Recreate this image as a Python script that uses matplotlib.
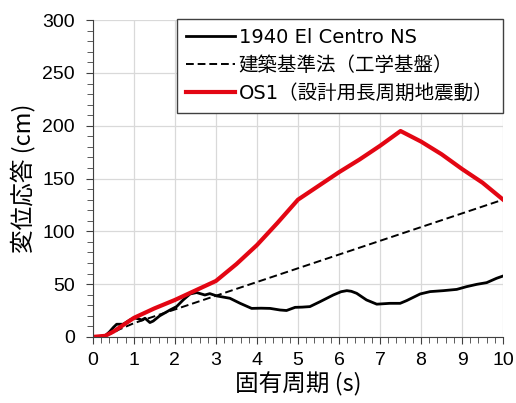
import numpy as np
import matplotlib.pyplot as plt
from matplotlib.ticker import MultipleLocator

plt.rcParams['font.family'] = ['Noto Sans CJK JP', 'DejaVu Sans']

# 1940 El Centro NS
t_ec = [0, 0.3, 0.41, 0.5, 0.58, 0.74, 0.9, 1.02, 1.12, 1.19, 1.27, 1.39, 1.47, 1.63, 1.88,
        2.04, 2.2, 2.37, 2.53, 2.73, 2.85, 3.02, 3.34, 3.59, 3.87, 4.1, 4.32, 4.56, 4.72,
        4.93, 5.1, 5.29, 5.54, 5.86, 6.05, 6.19, 6.3, 6.43, 6.67, 6.92, 7.24, 7.49, 7.65,
        7.98, 8.22, 8.54, 8.87, 9.11, 9.36, 9.6, 9.84, 10.0]
d_ec = [0, 1, 5, 9, 12, 12, 16, 18, 17, 16, 17.7, 13.6, 15, 20, 25.5,
        28.7, 35, 40.7, 42, 39.7, 41, 38.8, 36.6, 31.8, 27, 27.2, 27, 25.5, 25,
        28, 28.2, 28.7, 33.4, 39.7, 42.8, 43.8, 43.2, 41.3, 35, 31, 31.8, 31.8, 34.4,
        40.7, 42.9, 43.8, 45, 47.6, 49.8, 51.4, 55.5, 57.7]

# 建築基準法(工学基盤)
t_bsl = [0, 0.3, 0.5, 0.64, 1.0, 10.0]
d_bsl = [0, 1.5, 4, 7, 13, 130]

# OS1
t_os = [0, 0.3, 0.5, 1.0, 1.5, 2.0, 2.5, 3.0, 3.5, 4.0, 4.5, 5.0, 5.5, 6.0, 6.5, 7.0,
        7.5, 8.0, 8.5, 9.0, 9.5, 10.0]
d_os = [0, 1, 5, 18, 27, 35, 44, 53, 69, 87, 108, 130, 143, 156, 168, 181,
        195, 185, 173, 159, 146, 130]

fig = plt.figure(figsize=(5.16, 4.03), dpi=100)
ax = fig.add_axes([0.180, 0.164, 0.795, 0.786])

ax.plot(t_ec, d_ec, "-", color="black", lw=2.0, label="1940 El Centro NS")
ax.plot(t_bsl, d_bsl, "--", color="black", lw=1.4, dashes=(4, 2), label="建築基準法（工学基盤）")
ax.plot(t_os, d_os, "-", color="#e30613", lw=3.0, label="OS1（設計用長周期地震動）")

ax.set_xlim(0, 10)
ax.set_ylim(0, 300)
ax.xaxis.set_major_locator(MultipleLocator(1))
ax.xaxis.set_minor_locator(MultipleLocator(0.2))
ax.yaxis.set_major_locator(MultipleLocator(50))
ax.yaxis.set_minor_locator(MultipleLocator(10))
ax.grid(True, which="major", color="#d9d9d9", lw=0.9)
ax.set_axisbelow(True)
for s in ("top", "right"):
    ax.spines[s].set_visible(False)
for s in ("left", "bottom"):
    ax.spines[s].set_color("#404040")
ax.tick_params(which="both", direction="out", colors="#404040", labelcolor="black")
ax.tick_params(which="major", length=5)
ax.tick_params(which="minor", length=4)
ax.tick_params(axis="x", pad=6)
ax.tick_params(axis="y", pad=8)
for lab in ax.get_xticklabels() + ax.get_yticklabels():
    lab.set_family(['Liberation Sans', 'DejaVu Sans'])
    lab.set_fontsize(14)

ax.set_xlabel("固有周期 (s)", fontsize=17, labelpad=2)
ax.set_ylabel("変位応答 (cm)", fontsize=17, labelpad=5)

leg = ax.legend(loc="upper right", bbox_to_anchor=(1.0, 1.005), borderaxespad=0,
                prop={'family': ['DejaVu Sans', 'Noto Sans CJK JP'], 'size': 14},
                fancybox=False, edgecolor="#404040", framealpha=1,
                handlelength=2.5, handletextpad=0.2, labelspacing=0.45, borderpad=0.5)
leg.get_frame().set_linewidth(1.0)

plt.savefig("out.png", dpi=100)
